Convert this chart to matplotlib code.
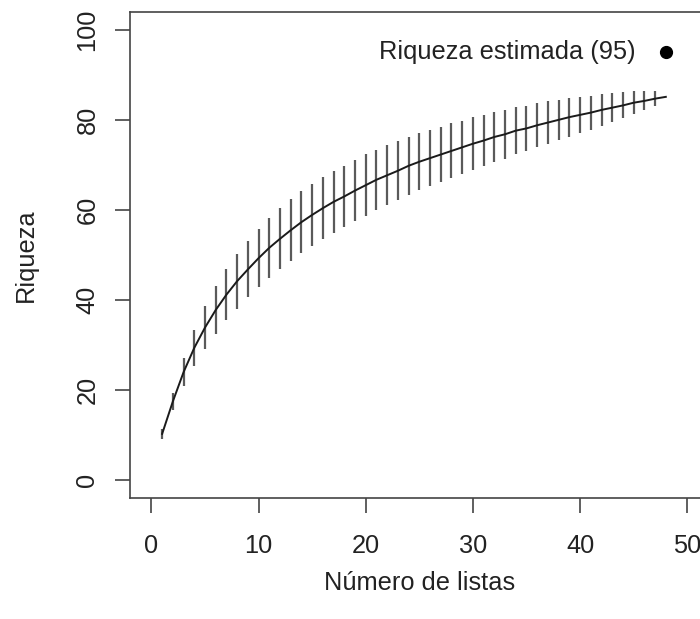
import numpy as np
import matplotlib
matplotlib.use("Agg")
import matplotlib.pyplot as plt

plt.rcParams['font.family'] = ['Liberation Sans', 'DejaVu Sans']

# curva de acumulacion de especies (media y desvio) por numero de listas
listas = list(range(1, 49))
riqueza = [10.3, 17.5, 24.0, 29.4, 33.9, 37.8, 41.2, 44.2, 46.8, 49.3,
           51.6, 53.6, 55.5, 57.3, 58.9, 60.4, 61.8, 63.0, 64.3, 65.5,
           66.7, 67.7, 68.7, 69.8, 70.7, 71.5, 72.3, 73.1, 73.9, 74.7,
           75.4, 76.2, 76.8, 77.6, 78.1, 78.8, 79.4, 80.0, 80.6, 81.1,
           81.6, 82.2, 82.7, 83.2, 83.8, 84.2, 84.7, 85.1]
desvio = [1.1, 1.9, 3.1, 4.0, 4.7, 5.3, 5.7, 6.1, 6.2, 6.5,
          6.7, 6.8, 6.9, 6.95, 6.95, 6.9, 6.9, 6.85, 6.8, 6.9,
          6.65, 6.7, 6.5, 6.5, 6.3, 6.25, 6.15, 6.1, 5.95, 5.85,
          5.65, 5.5, 5.4, 5.2, 5.0, 4.9, 4.75, 4.5, 4.35, 4.05,
          3.8, 3.5, 3.25, 2.9, 2.5, 2.1, 1.65, 0.0]
estimada_x = 48
estimada_y = 95
texto_estimada = "Riqueza estimada (95)"

fs = 18.3

fig = plt.figure(figsize=(7.0, 6.19), dpi=100)
ax = fig.add_axes([0.1857, 0.195, 0.8267, 0.7861])

x = np.array(listas)
y = np.array(riqueza)
sd = np.array(desvio)
ax.vlines(x, y - sd, y + sd, color='#5a5a5a', linewidth=1.6)
ax.plot(x, y, color='#1a1a1a', linewidth=1.4)

ax.plot([estimada_x], [estimada_y], 'o', color='black', markersize=8.5)
ax.annotate(texto_estimada, (estimada_x, estimada_y), xytext=(-22, 0),
            textcoords='offset points', ha='right', va='center',
            fontsize=fs, color='#222222')

ax.set_xlim(-2, 52)
ax.set_ylim(-4, 104)
ax.set_xticks([0, 10, 20, 30, 40, 50])
ax.set_yticks([0, 20, 40, 60, 80, 100])
for s in ax.spines.values():
    s.set_color('#444444')
    s.set_linewidth(1.2)
ax.tick_params(direction='out', length=11, width=1.2, color='#444444',
               labelsize=fs, labelcolor='#222222')
ax.tick_params(axis='x', pad=15)
ax.tick_params(axis='y', pad=11)
for lab in ax.get_yticklabels():
    lab.set_rotation(90)
    lab.set_va('center')

ax.set_xlabel("Número de listas", fontsize=fs, color='#222222', labelpad=9)
ax.set_ylabel("Riqueza", fontsize=fs, color='#222222', labelpad=27)

fig.savefig("out.png", dpi=100)
